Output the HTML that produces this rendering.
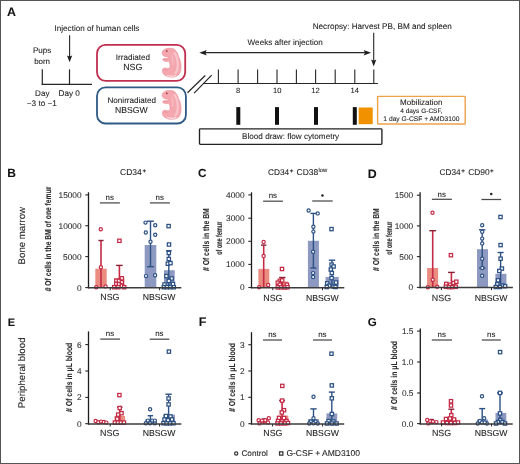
<!DOCTYPE html>
<html><head><meta charset="utf-8"><style>html,body{margin:0;padding:0;background:#fff;}#w{position:relative;width:520px;height:464px;overflow:hidden;background:#fff;}svg{display:block;will-change:transform;}.bd{position:absolute;left:0;top:0;width:520px;height:464px;box-sizing:border-box;border:1px solid #555;}text{font-family:"Liberation Sans",sans-serif;text-rendering:geometricPrecision;stroke:#222;stroke-width:0.08px;}</style></head><body><div id="w">
<svg width="520" height="464" viewBox="0 0 520 464" font-family="Liberation Sans, sans-serif">
<rect x="0" y="0" width="520" height="464" fill="#fff" stroke="none" stroke-width="1" rx="0"/>
<text x="6.94" y="15.60" font-size="12.388" font-weight="bold" fill="#111">A</text>
<text x="54.52" y="30.50" font-size="8.136" font-weight="normal" fill="#222222">Injection of human cells</text>
<line x1="69.6" y1="35.2" x2="69.6" y2="57.5" stroke="#262626" stroke-width="1.1"/>
<path d="M67.0 55.4 L69.6 56.6 L72.2 55.4 L69.6 62.2 Z" fill="#1e1e1e"/>
<text x="32.90" y="53.30" font-size="8.083" font-weight="normal" fill="#222222">Pups</text>
<text x="34.13" y="63.60" font-size="7.968" font-weight="normal" fill="#222222">born</text>
<line x1="42.3" y1="69.3" x2="42.3" y2="84.9" stroke="#262626" stroke-width="1.2"/>
<line x1="69.5" y1="69.3" x2="69.5" y2="84.3" stroke="#262626" stroke-width="1.2"/>
<line x1="41.7" y1="84.3" x2="92" y2="84.3" stroke="#262626" stroke-width="1.2"/>
<text x="35.10" y="95.60" font-size="8.100" font-weight="normal" fill="#222222">Day</text>
<text x="58.49" y="95.60" font-size="8.216" font-weight="normal" fill="#222222">Day 0</text>
<text x="26.84" y="106.20" font-size="8.196" font-weight="normal" fill="#222222">−3 to −1</text>
<rect x="97" y="44.8" width="88.2" height="36" fill="#fff" stroke="#bf2f50" stroke-width="1.8" rx="8.5"/>
<rect x="97" y="87.4" width="88.9" height="36.1" fill="#fff" stroke="#2e5a86" stroke-width="1.8" rx="8.5"/>
<text x="115.82" y="59.80" font-size="8.084" font-weight="normal" fill="#222222">Irradiated</text>
<text x="123.14" y="70.00" font-size="8.883" font-weight="normal" fill="#222222">NSG</text>
<text x="107.50" y="102.70" font-size="8.106" font-weight="normal" fill="#222222">Nonirradiated</text>
<text x="115.06" y="112.70" font-size="8.660" font-weight="normal" fill="#222222">NBSGW</text>
<g transform="translate(160 45.8)">
<path d="M2.1 6.8 C2.4 5.2 3.2 4.2 4.3 3.9 C5.5 2.9 7 2.5 8.5 2.5 C10 2.4 11.5 2.5 12.8 2.8 C14.2 3.3 15.2 4.1 15.7 5 C17.2 6.6 18 8.6 18.5 10.7 C19.8 12.8 20.4 14.9 20.7 17.1 C21.1 19 21.1 21 21 22.8 C20.8 24.6 20.4 26.3 19.6 27.8 C18.8 29.2 17.7 30.1 16.4 30.6 C14.6 31.3 12.6 31.4 10.7 31.3 C8.9 31.2 7.2 30.8 5.7 29.9 C4.6 29.4 3.7 28.7 3.2 27.8 C2.6 26.7 2.3 25.4 2.5 24.2 C2.7 23.4 3.1 22.7 3.6 22.4 C4.3 22.1 5 22.2 5.7 22.4 C7 22.6 8.2 22.7 9.3 22.8 C9.8 21.9 10.1 20.9 10 19.9 C10 18.9 9.9 18 9.6 17.1 C9.3 16.4 8.9 15.8 8.5 15.3 C8 15.5 7.6 15.7 7.1 15.7 C6.2 15.7 5.2 15.6 4.3 15.3 C3.6 15.1 3 14.7 2.8 14.2 C2.7 13.5 3.1 13 3.6 12.8 C4.5 12.6 5.5 12.6 6.4 12.7 C7 12.7 7.5 12.7 7.8 12.5 C8.1 12.1 8.1 11.6 7.8 11.2 C6.6 11 5.4 10.8 4.3 10.5 C3.5 10.2 3.1 9.8 2.8 9.3 C2.4 8.6 2.1 7.7 2.1 6.8 Z" fill="#f4a7ae" stroke="#e98e99" stroke-width="0.6"/>
<path d="M14 6.5 C16.5 9.5 17.8 14 17.8 19 C17.8 23 16.8 26 15 28" fill="none" stroke="#f8c6ca" stroke-width="2.2"/>
<path d="M11.5 9 C12.8 12 13.2 15.5 12.9 19" fill="none" stroke="#f7c0c5" stroke-width="1.1"/>
<path d="M6.8 29.6 C10 30.6 13.5 30.6 16.5 29.6" fill="none" stroke="#fde3e5" stroke-width="1.1"/>
<path d="M3.8 24.0 C5 23.6 6.5 23.9 7.6 24.6" fill="none" stroke="#e3808e" stroke-width="0.45"/>
<path d="M3.8 13.9 C5 13.7 6.3 13.8 7.4 13.6" fill="none" stroke="#e3808e" stroke-width="0.45"/>
<circle cx="6.8" cy="5.3" r="0.85" fill="#8a2f40"/>
</g>
<g transform="translate(160 88)">
<path d="M2.1 6.8 C2.4 5.2 3.2 4.2 4.3 3.9 C5.5 2.9 7 2.5 8.5 2.5 C10 2.4 11.5 2.5 12.8 2.8 C14.2 3.3 15.2 4.1 15.7 5 C17.2 6.6 18 8.6 18.5 10.7 C19.8 12.8 20.4 14.9 20.7 17.1 C21.1 19 21.1 21 21 22.8 C20.8 24.6 20.4 26.3 19.6 27.8 C18.8 29.2 17.7 30.1 16.4 30.6 C14.6 31.3 12.6 31.4 10.7 31.3 C8.9 31.2 7.2 30.8 5.7 29.9 C4.6 29.4 3.7 28.7 3.2 27.8 C2.6 26.7 2.3 25.4 2.5 24.2 C2.7 23.4 3.1 22.7 3.6 22.4 C4.3 22.1 5 22.2 5.7 22.4 C7 22.6 8.2 22.7 9.3 22.8 C9.8 21.9 10.1 20.9 10 19.9 C10 18.9 9.9 18 9.6 17.1 C9.3 16.4 8.9 15.8 8.5 15.3 C8 15.5 7.6 15.7 7.1 15.7 C6.2 15.7 5.2 15.6 4.3 15.3 C3.6 15.1 3 14.7 2.8 14.2 C2.7 13.5 3.1 13 3.6 12.8 C4.5 12.6 5.5 12.6 6.4 12.7 C7 12.7 7.5 12.7 7.8 12.5 C8.1 12.1 8.1 11.6 7.8 11.2 C6.6 11 5.4 10.8 4.3 10.5 C3.5 10.2 3.1 9.8 2.8 9.3 C2.4 8.6 2.1 7.7 2.1 6.8 Z" fill="#f4a7ae" stroke="#e98e99" stroke-width="0.6"/>
<path d="M14 6.5 C16.5 9.5 17.8 14 17.8 19 C17.8 23 16.8 26 15 28" fill="none" stroke="#f8c6ca" stroke-width="2.2"/>
<path d="M11.5 9 C12.8 12 13.2 15.5 12.9 19" fill="none" stroke="#f7c0c5" stroke-width="1.1"/>
<path d="M6.8 29.6 C10 30.6 13.5 30.6 16.5 29.6" fill="none" stroke="#fde3e5" stroke-width="1.1"/>
<path d="M3.8 24.0 C5 23.6 6.5 23.9 7.6 24.6" fill="none" stroke="#e3808e" stroke-width="0.45"/>
<path d="M3.8 13.9 C5 13.7 6.3 13.8 7.4 13.6" fill="none" stroke="#e3808e" stroke-width="0.45"/>
<circle cx="6.8" cy="5.3" r="0.85" fill="#8a2f40"/>
</g>
<line x1="187.5" y1="92.8" x2="205.2" y2="75.5" stroke="#262626" stroke-width="1.2"/>
<line x1="194.1" y1="93.1" x2="211.7" y2="75.2" stroke="#262626" stroke-width="1.2"/>
<line x1="203.5" y1="83.5" x2="377.9" y2="83.5" stroke="#262626" stroke-width="1.2"/>
<line x1="218.4" y1="69.4" x2="218.4" y2="83.5" stroke="#262626" stroke-width="1.1"/>
<line x1="238.1" y1="69.4" x2="238.1" y2="83.5" stroke="#262626" stroke-width="1.1"/>
<line x1="257.6" y1="69.4" x2="257.6" y2="83.5" stroke="#262626" stroke-width="1.1"/>
<line x1="277.0" y1="69.4" x2="277.0" y2="83.5" stroke="#262626" stroke-width="1.1"/>
<line x1="296.4" y1="69.4" x2="296.4" y2="83.5" stroke="#262626" stroke-width="1.1"/>
<line x1="315.6" y1="69.4" x2="315.6" y2="83.5" stroke="#262626" stroke-width="1.1"/>
<line x1="335.2" y1="69.4" x2="335.2" y2="83.5" stroke="#262626" stroke-width="1.1"/>
<line x1="354.8" y1="69.4" x2="354.8" y2="83.5" stroke="#262626" stroke-width="1.1"/>
<line x1="373.8" y1="69.4" x2="373.8" y2="83.5" stroke="#262626" stroke-width="1.1"/>
<text x="235.97" y="92.80" font-size="7.600" font-weight="normal" fill="#222222">8</text>
<text x="272.93" y="92.80" font-size="7.600" font-weight="normal" fill="#222222">10</text>
<text x="311.19" y="92.80" font-size="7.600" font-weight="normal" fill="#222222">12</text>
<text x="350.41" y="92.80" font-size="7.600" font-weight="normal" fill="#222222">14</text>
<line x1="203" y1="52.7" x2="367" y2="52.7" stroke="#262626" stroke-width="1.2"/>
<path d="M199.3 52.7 L206.8 49.9 L205.3 52.7 L206.8 55.5 Z" fill="#1e1e1e"/>
<path d="M371.1 52.7 L363.6 49.9 L365.1 52.7 L363.6 55.5 Z" fill="#1e1e1e"/>
<text x="247.61" y="44.70" font-size="8.124" font-weight="normal" fill="#222222">Weeks after injection</text>
<text x="312.70" y="29.30" font-size="8.176" font-weight="normal" fill="#222222">Necropsy: Harvest PB, BM and spleen</text>
<line x1="373.7" y1="32.8" x2="373.7" y2="62" stroke="#262626" stroke-width="1.1"/>
<path d="M371.1 59.6 L373.7 60.8 L376.3 59.6 L373.7 66.6 Z" fill="#1e1e1e"/>
<rect x="236.3" y="107.1" width="4" height="17.7" fill="#111" stroke="none" stroke-width="1" rx="0"/>
<rect x="275.0" y="107.1" width="4" height="17.7" fill="#111" stroke="none" stroke-width="1" rx="0"/>
<rect x="314.0" y="107.1" width="4" height="17.7" fill="#111" stroke="none" stroke-width="1" rx="0"/>
<rect x="352.8" y="107.1" width="4" height="17.7" fill="#111" stroke="none" stroke-width="1" rx="0"/>
<rect x="358.7" y="107.5" width="14" height="16.7" fill="#f29100" stroke="none" stroke-width="1" rx="0"/>
<rect x="377.6" y="96.4" width="87.6" height="27.6" fill="#fff" stroke="#eda24a" stroke-width="1.4" rx="0.6"/>
<text x="400.01" y="104.60" font-size="8.043" font-weight="normal" fill="#222222">Mobilization</text>
<text x="400.22" y="112.70" font-size="6.505" font-weight="normal" fill="#222222">4 days G-CSF,</text>
<text x="383.35" y="120.90" font-size="6.708" font-weight="normal" fill="#222222">1 day G-CSF + AMD3100</text>
<rect x="199.5" y="128.8" width="182.4" height="15.5" fill="#fff" stroke="#222" stroke-width="1.35" rx="0.8"/>
<text x="242.10" y="138.80" font-size="8.138" font-weight="normal" fill="#222222">Blood draw: flow cytometry</text>
<text x="7.37" y="177.30" font-size="11.967" font-weight="bold" fill="#111">B</text>
<text x="197.98" y="177.40" font-size="11.756" font-weight="bold" fill="#111">C</text>
<text x="367.65" y="177.50" font-size="12.358" font-weight="bold" fill="#111">D</text>
<text x="7.64" y="325.50" font-size="10.973" font-weight="bold" fill="#111">E</text>
<text x="198.63" y="325.50" font-size="12.549" font-weight="bold" fill="#111">F</text>
<text x="367.69" y="325.60" font-size="11.556" font-weight="bold" fill="#111">G</text>
<text transform="translate(25.25 235.7) rotate(-90)" x="0" y="0" font-size="9.64" text-anchor="middle" fill="#222222" textLength="57.44" lengthAdjust="spacingAndGlyphs">Bone marrow</text>
<text transform="translate(24.9 372.85) rotate(-90)" x="0" y="0" font-size="9.7" text-anchor="middle" fill="#222222" textLength="70.84" lengthAdjust="spacingAndGlyphs">Peripheral blood</text>
<text x="120.02" y="175.00" font-size="8.525" font-weight="normal" fill="#222222">CD34</text>
<text x="142.59" y="172.90" font-size="6.200" font-weight="bold" fill="#222222">+</text>
<text x="267.94" y="175.10" font-size="8.283" font-weight="normal" fill="#222222">CD34</text>
<text x="289.69" y="172.90" font-size="6.200" font-weight="bold" fill="#222222">+</text>
<text x="296.53" y="175.10" font-size="8.479" font-weight="normal" fill="#222222">CD38</text>
<text x="318.47" y="172.30" font-size="5.903" font-weight="normal" fill="#222222">low</text>
<text x="439.43" y="175.10" font-size="8.323" font-weight="normal" fill="#222222">CD34</text>
<text x="461.29" y="172.90" font-size="6.200" font-weight="bold" fill="#222222">+</text>
<text x="468.13" y="175.10" font-size="8.421" font-weight="normal" fill="#222222">CD90</text>
<text x="490.09" y="172.90" font-size="6.200" font-weight="bold" fill="#222222">+</text>
<rect x="95.3" y="268.7" width="11.400000000000006" height="19.05000000000001" fill="#ea8c80"/>
<line x1="101.0" y1="240.5" x2="101.0" y2="287.75" stroke="#c42a45" stroke-width="1.6"/>
<line x1="98.4" y1="240.5" x2="103.6" y2="240.5" stroke="#8a2238" stroke-width="1.4"/>
<circle cx="100.8" cy="229.2" r="1.6" fill="#fff" stroke="#c42a45" stroke-width="1.2"/>
<circle cx="100.9" cy="267.2" r="1.6" fill="#fff" stroke="#c42a45" stroke-width="1.2"/>
<circle cx="96.2" cy="287.3" r="1.6" fill="#fff" stroke="#c42a45" stroke-width="1.2"/>
<circle cx="105.6" cy="286.4" r="1.6" fill="#fff" stroke="#c42a45" stroke-width="1.2"/>
<rect x="114.4" y="278.3" width="10.0" height="9.449999999999989" fill="#ea8c80"/>
<line x1="119.4" y1="265.4" x2="119.4" y2="287.75" stroke="#c42a45" stroke-width="1.6"/>
<line x1="116.10000000000001" y1="265.4" x2="122.7" y2="265.4" stroke="#8a2238" stroke-width="1.4"/>
<rect x="117.75" y="239.15" width="3.3" height="3.3" fill="#fff" stroke="#c42a45" stroke-width="1.25"/>
<rect x="120.15" y="276.65" width="3.3" height="3.3" fill="#fff" stroke="#c42a45" stroke-width="1.25"/>
<rect x="114.65" y="279.05" width="3.3" height="3.3" fill="#fff" stroke="#c42a45" stroke-width="1.25"/>
<rect x="117.35" y="279.25" width="3.3" height="3.3" fill="#fff" stroke="#c42a45" stroke-width="1.25"/>
<rect x="120.15" y="280.65" width="3.3" height="3.3" fill="#fff" stroke="#c42a45" stroke-width="1.25"/>
<rect x="114.65" y="282.15" width="3.3" height="3.3" fill="#fff" stroke="#c42a45" stroke-width="1.25"/>
<rect x="117.35" y="282.65" width="3.3" height="3.3" fill="#fff" stroke="#c42a45" stroke-width="1.25"/>
<rect x="120.15" y="284.25" width="3.3" height="3.3" fill="#fff" stroke="#c42a45" stroke-width="1.25"/>
<rect x="112.55" y="285.55" width="3.3" height="3.3" fill="#fff" stroke="#c42a45" stroke-width="1.25"/>
<rect x="116.65" y="285.55" width="3.3" height="3.3" fill="#fff" stroke="#c42a45" stroke-width="1.25"/>
<rect x="122.55" y="285.55" width="3.3" height="3.3" fill="#fff" stroke="#c42a45" stroke-width="1.25"/>
<rect x="144.7" y="245.0" width="11.600000000000023" height="42.75" fill="#8d99c0"/>
<line x1="150.5" y1="221.2" x2="150.5" y2="266.7" stroke="#2c5184" stroke-width="1.4"/>
<line x1="147.1" y1="221.2" x2="153.9" y2="221.2" stroke="#2c5184" stroke-width="1.4"/>
<line x1="147.1" y1="266.7" x2="153.9" y2="266.7" stroke="#2c5184" stroke-width="1.4"/>
<circle cx="145.5" cy="222.6" r="1.6" fill="#fff" stroke="#2c5184" stroke-width="1.2"/>
<circle cx="155.2" cy="225.3" r="1.6" fill="#fff" stroke="#2c5184" stroke-width="1.2"/>
<circle cx="145.8" cy="232.5" r="1.6" fill="#fff" stroke="#2c5184" stroke-width="1.2"/>
<circle cx="155.2" cy="234.7" r="1.6" fill="#fff" stroke="#2c5184" stroke-width="1.2"/>
<circle cx="150.5" cy="241.7" r="1.6" fill="#fff" stroke="#2c5184" stroke-width="1.2"/>
<circle cx="146.0" cy="276.1" r="1.6" fill="#fff" stroke="#2c5184" stroke-width="1.2"/>
<circle cx="155.1" cy="275.3" r="1.6" fill="#fff" stroke="#2c5184" stroke-width="1.2"/>
<rect x="164.0" y="270.2" width="10.699999999999989" height="17.55000000000001" fill="#8d99c0"/>
<line x1="168.8" y1="250.7" x2="168.8" y2="287.75" stroke="#2c5184" stroke-width="1.4"/>
<line x1="166.0" y1="250.7" x2="171.60000000000002" y2="250.7" stroke="#2c5184" stroke-width="1.4"/>
<rect x="166.95" y="224.45" width="3.3" height="3.3" fill="#fff" stroke="#2c5184" stroke-width="1.25"/>
<rect x="167.35" y="242.85" width="3.3" height="3.3" fill="#fff" stroke="#2c5184" stroke-width="1.25"/>
<rect x="167.15" y="251.35" width="3.3" height="3.3" fill="#fff" stroke="#2c5184" stroke-width="1.25"/>
<rect x="167.15" y="257.35" width="3.3" height="3.3" fill="#fff" stroke="#2c5184" stroke-width="1.25"/>
<rect x="166.15" y="262.05" width="3.3" height="3.3" fill="#fff" stroke="#2c5184" stroke-width="1.25"/>
<rect x="168.85" y="261.45" width="3.3" height="3.3" fill="#fff" stroke="#2c5184" stroke-width="1.25"/>
<rect x="164.75" y="274.45" width="3.3" height="3.3" fill="#fff" stroke="#2c5184" stroke-width="1.25"/>
<rect x="170.05" y="276.85" width="3.3" height="3.3" fill="#fff" stroke="#2c5184" stroke-width="1.25"/>
<rect x="167.15" y="279.25" width="3.3" height="3.3" fill="#fff" stroke="#2c5184" stroke-width="1.25"/>
<rect x="162.85" y="282.85" width="3.3" height="3.3" fill="#fff" stroke="#2c5184" stroke-width="1.25"/>
<rect x="171.35" y="282.35" width="3.3" height="3.3" fill="#fff" stroke="#2c5184" stroke-width="1.25"/>
<rect x="162.15" y="285.55" width="3.3" height="3.3" fill="#fff" stroke="#2c5184" stroke-width="1.25"/>
<rect x="165.35" y="285.55" width="3.3" height="3.3" fill="#fff" stroke="#2c5184" stroke-width="1.25"/>
<rect x="168.65" y="285.55" width="3.3" height="3.3" fill="#fff" stroke="#2c5184" stroke-width="1.25"/>
<rect x="172.15" y="285.55" width="3.3" height="3.3" fill="#fff" stroke="#2c5184" stroke-width="1.25"/>
<line x1="88.5" y1="192.3" x2="88.5" y2="288.35" stroke="#1c1c1c" stroke-width="1.3"/>
<line x1="87.9" y1="287.75" x2="181.3" y2="287.75" stroke="#3c3c3c" stroke-width="1.5"/>
<line x1="85.3" y1="194.9" x2="88.5" y2="194.9" stroke="#262626" stroke-width="1.1"/>
<text x="58.52" y="197.80" font-size="8.300" font-weight="normal" fill="#2e2e2e">15000</text>
<line x1="85.3" y1="225.75" x2="88.5" y2="225.75" stroke="#262626" stroke-width="1.1"/>
<text x="58.52" y="228.65" font-size="8.300" font-weight="normal" fill="#2e2e2e">10000</text>
<line x1="85.3" y1="256.6" x2="88.5" y2="256.6" stroke="#262626" stroke-width="1.1"/>
<text x="63.12" y="259.50" font-size="8.300" font-weight="normal" fill="#2e2e2e">5000</text>
<line x1="85.3" y1="287.6" x2="88.5" y2="287.6" stroke="#262626" stroke-width="1.1"/>
<text x="76.98" y="290.50" font-size="8.300" font-weight="normal" fill="#2e2e2e">0</text>
<line x1="110.2" y1="287.75" x2="110.2" y2="290.25" stroke="#262626" stroke-width="1"/>
<line x1="159.6" y1="287.75" x2="159.6" y2="290.25" stroke="#262626" stroke-width="1"/>
<text x="100.22" y="300.30" font-size="8.900" font-weight="normal" fill="#222222">NSG</text>
<text x="142.68" y="300.30" font-size="8.700" font-weight="normal" fill="#222222">NBSGW</text>
<line x1="99.9" y1="202.9" x2="119.9" y2="202.9" stroke="#4a4a4a" stroke-width="1.25"/>
<text x="105.61" y="200.10" font-size="7.900" font-weight="normal" fill="#222222">ns</text>
<line x1="149.9" y1="202.9" x2="169.9" y2="202.9" stroke="#4a4a4a" stroke-width="1.25"/>
<text x="155.61" y="200.10" font-size="7.900" font-weight="normal" fill="#222222">ns</text>
<text transform="translate(50.95 239.0) rotate(-90)" x="0" y="0" font-size="8.6" text-anchor="middle" fill="#2a2a2a" font-weight="bold" textLength="104.49" lengthAdjust="spacingAndGlyphs"># Of cells in the BM of one femur</text>
<rect x="258.4" y="268.9" width="10.900000000000034" height="18.80000000000001" fill="#ea8c80"/>
<line x1="263.7" y1="245.1" x2="263.7" y2="287.7" stroke="#c42a45" stroke-width="1.6"/>
<line x1="261.0" y1="245.1" x2="266.4" y2="245.1" stroke="#8a2238" stroke-width="1.4"/>
<circle cx="263.6" cy="241.9" r="1.6" fill="#fff" stroke="#c42a45" stroke-width="1.2"/>
<circle cx="263.6" cy="255.9" r="1.6" fill="#fff" stroke="#c42a45" stroke-width="1.2"/>
<circle cx="259.1" cy="287.2" r="1.6" fill="#fff" stroke="#c42a45" stroke-width="1.2"/>
<circle cx="268.2" cy="285.0" r="1.6" fill="#fff" stroke="#c42a45" stroke-width="1.2"/>
<rect x="277.0" y="281.5" width="11.0" height="6.199999999999989" fill="#ea8c80"/>
<line x1="282.3" y1="277.5" x2="282.3" y2="287.7" stroke="#c42a45" stroke-width="1.6"/>
<line x1="279.1" y1="277.5" x2="285.5" y2="277.5" stroke="#8a2238" stroke-width="1.4"/>
<rect x="280.35" y="267.35" width="3.3" height="3.3" fill="#fff" stroke="#c42a45" stroke-width="1.25"/>
<rect x="278.15" y="279.15" width="3.3" height="3.3" fill="#fff" stroke="#c42a45" stroke-width="1.25"/>
<rect x="280.55" y="278.75" width="3.3" height="3.3" fill="#fff" stroke="#c42a45" stroke-width="1.25"/>
<rect x="276.15" y="281.05" width="3.3" height="3.3" fill="#fff" stroke="#c42a45" stroke-width="1.25"/>
<rect x="278.15" y="283.05" width="3.3" height="3.3" fill="#fff" stroke="#c42a45" stroke-width="1.25"/>
<rect x="285.25" y="283.05" width="3.3" height="3.3" fill="#fff" stroke="#c42a45" stroke-width="1.25"/>
<rect x="276.15" y="285.75" width="3.3" height="3.3" fill="#fff" stroke="#c42a45" stroke-width="1.25"/>
<rect x="279.45" y="285.75" width="3.3" height="3.3" fill="#fff" stroke="#c42a45" stroke-width="1.25"/>
<rect x="283.25" y="285.75" width="3.3" height="3.3" fill="#fff" stroke="#c42a45" stroke-width="1.25"/>
<rect x="285.85" y="285.55" width="3.3" height="3.3" fill="#fff" stroke="#c42a45" stroke-width="1.25"/>
<rect x="307.9" y="240.8" width="11.0" height="46.89999999999998" fill="#8d99c0"/>
<line x1="313.4" y1="213.4" x2="313.4" y2="268.0" stroke="#2c5184" stroke-width="1.4"/>
<line x1="310.4" y1="213.4" x2="316.4" y2="213.4" stroke="#2c5184" stroke-width="1.4"/>
<line x1="310.4" y1="268.0" x2="316.4" y2="268.0" stroke="#2c5184" stroke-width="1.4"/>
<circle cx="308.6" cy="210.5" r="1.6" fill="#fff" stroke="#2c5184" stroke-width="1.2"/>
<circle cx="317.7" cy="213.4" r="1.6" fill="#fff" stroke="#2c5184" stroke-width="1.2"/>
<circle cx="313.4" cy="226.7" r="1.6" fill="#fff" stroke="#2c5184" stroke-width="1.2"/>
<circle cx="313.4" cy="231.6" r="1.6" fill="#fff" stroke="#2c5184" stroke-width="1.2"/>
<circle cx="313.1" cy="251.8" r="1.6" fill="#fff" stroke="#2c5184" stroke-width="1.2"/>
<circle cx="313.1" cy="273.1" r="1.6" fill="#fff" stroke="#2c5184" stroke-width="1.2"/>
<circle cx="313.1" cy="277.0" r="1.6" fill="#fff" stroke="#2c5184" stroke-width="1.2"/>
<rect x="325.6" y="276.9" width="13.099999999999966" height="10.800000000000011" fill="#8d99c0"/>
<line x1="332.0" y1="260.2" x2="332.0" y2="287.7" stroke="#2c5184" stroke-width="1.4"/>
<line x1="328.8" y1="260.2" x2="335.2" y2="260.2" stroke="#2c5184" stroke-width="1.4"/>
<rect x="329.85" y="227.45" width="3.3" height="3.3" fill="#fff" stroke="#2c5184" stroke-width="1.25"/>
<rect x="329.95" y="262.95" width="3.3" height="3.3" fill="#fff" stroke="#2c5184" stroke-width="1.25"/>
<rect x="331.95" y="264.85" width="3.3" height="3.3" fill="#fff" stroke="#2c5184" stroke-width="1.25"/>
<rect x="329.15" y="267.85" width="3.3" height="3.3" fill="#fff" stroke="#2c5184" stroke-width="1.25"/>
<rect x="330.15" y="271.35" width="3.3" height="3.3" fill="#fff" stroke="#2c5184" stroke-width="1.25"/>
<rect x="329.95" y="276.45" width="3.3" height="3.3" fill="#fff" stroke="#2c5184" stroke-width="1.25"/>
<rect x="325.55" y="281.65" width="3.3" height="3.3" fill="#fff" stroke="#2c5184" stroke-width="1.25"/>
<rect x="334.35" y="280.85" width="3.3" height="3.3" fill="#fff" stroke="#2c5184" stroke-width="1.25"/>
<rect x="327.55" y="284.05" width="3.3" height="3.3" fill="#fff" stroke="#2c5184" stroke-width="1.25"/>
<rect x="331.95" y="284.85" width="3.3" height="3.3" fill="#fff" stroke="#2c5184" stroke-width="1.25"/>
<rect x="325.15" y="285.35" width="3.3" height="3.3" fill="#fff" stroke="#2c5184" stroke-width="1.25"/>
<rect x="333.85" y="285.35" width="3.3" height="3.3" fill="#fff" stroke="#2c5184" stroke-width="1.25"/>
<line x1="251.5" y1="192.3" x2="251.5" y2="288.3" stroke="#1c1c1c" stroke-width="1.3"/>
<line x1="250.9" y1="287.7" x2="344.3" y2="287.7" stroke="#3c3c3c" stroke-width="1.5"/>
<line x1="248.3" y1="194.9" x2="251.5" y2="194.9" stroke="#262626" stroke-width="1.1"/>
<text x="226.12" y="197.80" font-size="8.300" font-weight="normal" fill="#2e2e2e">4000</text>
<line x1="248.3" y1="218.2" x2="251.5" y2="218.2" stroke="#262626" stroke-width="1.1"/>
<text x="226.12" y="221.10" font-size="8.300" font-weight="normal" fill="#2e2e2e">3000</text>
<line x1="248.3" y1="241.3" x2="251.5" y2="241.3" stroke="#262626" stroke-width="1.1"/>
<text x="226.12" y="244.20" font-size="8.300" font-weight="normal" fill="#2e2e2e">2000</text>
<line x1="248.3" y1="264.4" x2="251.5" y2="264.4" stroke="#262626" stroke-width="1.1"/>
<text x="226.12" y="267.30" font-size="8.300" font-weight="normal" fill="#2e2e2e">1000</text>
<line x1="248.3" y1="287.5" x2="251.5" y2="287.5" stroke="#262626" stroke-width="1.1"/>
<text x="239.98" y="290.40" font-size="8.300" font-weight="normal" fill="#2e2e2e">0</text>
<line x1="272.8" y1="287.7" x2="272.8" y2="290.2" stroke="#262626" stroke-width="1"/>
<line x1="322.5" y1="287.7" x2="322.5" y2="290.2" stroke="#262626" stroke-width="1"/>
<text x="263.27" y="300.90" font-size="8.900" font-weight="normal" fill="#222222">NSG</text>
<text x="305.88" y="300.90" font-size="8.700" font-weight="normal" fill="#222222">NBSGW</text>
<line x1="263.1" y1="201.2" x2="282.9" y2="201.2" stroke="#4a4a4a" stroke-width="1.25"/>
<text x="268.71" y="198.40" font-size="7.900" font-weight="normal" fill="#222222">ns</text>
<line x1="312.2" y1="201.0" x2="332.7" y2="201.0" stroke="#4a4a4a" stroke-width="1.25"/>
<circle cx="322.45" cy="195.50" r="1.25" fill="#222"/>
<text transform="translate(209.4 239.65) rotate(-90)" x="0" y="0" font-size="8.6" text-anchor="middle" fill="#2a2a2a" font-weight="bold" textLength="62.77" lengthAdjust="spacingAndGlyphs"># Of cells in the BM</text>
<text transform="translate(222.2 238.25) rotate(-90)" x="0" y="0" font-size="8.6" text-anchor="middle" fill="#2a2a2a" font-weight="bold" textLength="33.10" lengthAdjust="spacingAndGlyphs">of one femur</text>
<rect x="427.1" y="268.0" width="11.0" height="19.600000000000023" fill="#ea8c80"/>
<line x1="432.7" y1="230.7" x2="432.7" y2="287.6" stroke="#c42a45" stroke-width="1.6"/>
<line x1="429.3" y1="230.7" x2="436.09999999999997" y2="230.7" stroke="#8a2238" stroke-width="1.4"/>
<circle cx="432.5" cy="212.8" r="1.6" fill="#fff" stroke="#c42a45" stroke-width="1.2"/>
<circle cx="432.7" cy="279.7" r="1.6" fill="#fff" stroke="#c42a45" stroke-width="1.2"/>
<circle cx="427.8" cy="287.2" r="1.6" fill="#fff" stroke="#c42a45" stroke-width="1.2"/>
<circle cx="437.2" cy="286.8" r="1.6" fill="#fff" stroke="#c42a45" stroke-width="1.2"/>
<rect x="445.5" y="283.0" width="11.0" height="4.600000000000023" fill="#ea8c80"/>
<line x1="451.4" y1="272.4" x2="451.4" y2="287.6" stroke="#c42a45" stroke-width="1.6"/>
<line x1="448.0" y1="272.4" x2="454.79999999999995" y2="272.4" stroke="#8a2238" stroke-width="1.4"/>
<rect x="449.25" y="253.55" width="3.3" height="3.3" fill="#fff" stroke="#c42a45" stroke-width="1.25"/>
<rect x="444.65" y="282.25" width="3.3" height="3.3" fill="#fff" stroke="#c42a45" stroke-width="1.25"/>
<rect x="448.35" y="283.15" width="3.3" height="3.3" fill="#fff" stroke="#c42a45" stroke-width="1.25"/>
<rect x="451.95" y="281.35" width="3.3" height="3.3" fill="#fff" stroke="#c42a45" stroke-width="1.25"/>
<rect x="454.65" y="280.05" width="3.3" height="3.3" fill="#fff" stroke="#c42a45" stroke-width="1.25"/>
<rect x="444.25" y="285.05" width="3.3" height="3.3" fill="#fff" stroke="#c42a45" stroke-width="1.25"/>
<rect x="447.35" y="285.45" width="3.3" height="3.3" fill="#fff" stroke="#c42a45" stroke-width="1.25"/>
<rect x="450.55" y="285.45" width="3.3" height="3.3" fill="#fff" stroke="#c42a45" stroke-width="1.25"/>
<rect x="454.15" y="285.05" width="3.3" height="3.3" fill="#fff" stroke="#c42a45" stroke-width="1.25"/>
<rect x="477.0" y="249.2" width="11.0" height="38.400000000000034" fill="#8d99c0"/>
<line x1="482.2" y1="229.8" x2="482.2" y2="268.0" stroke="#2c5184" stroke-width="1.4"/>
<line x1="479.0" y1="229.8" x2="485.4" y2="229.8" stroke="#2c5184" stroke-width="1.4"/>
<line x1="479.0" y1="268.0" x2="485.4" y2="268.0" stroke="#2c5184" stroke-width="1.4"/>
<circle cx="482.2" cy="225.3" r="1.6" fill="#fff" stroke="#2c5184" stroke-width="1.2"/>
<circle cx="482.2" cy="231.8" r="1.6" fill="#fff" stroke="#2c5184" stroke-width="1.2"/>
<circle cx="482.2" cy="238.6" r="1.6" fill="#fff" stroke="#2c5184" stroke-width="1.2"/>
<circle cx="482.2" cy="243.4" r="1.6" fill="#fff" stroke="#2c5184" stroke-width="1.2"/>
<circle cx="482.2" cy="258.7" r="1.6" fill="#fff" stroke="#2c5184" stroke-width="1.2"/>
<circle cx="482.2" cy="268.0" r="1.6" fill="#fff" stroke="#2c5184" stroke-width="1.2"/>
<circle cx="482.2" cy="275.8" r="1.6" fill="#fff" stroke="#2c5184" stroke-width="1.2"/>
<rect x="495.4" y="273.8" width="11.0" height="13.800000000000011" fill="#8d99c0"/>
<line x1="500.6" y1="252.5" x2="500.6" y2="287.6" stroke="#2c5184" stroke-width="1.4"/>
<line x1="497.6" y1="252.5" x2="503.6" y2="252.5" stroke="#2c5184" stroke-width="1.4"/>
<rect x="498.85" y="215.35" width="3.3" height="3.3" fill="#fff" stroke="#2c5184" stroke-width="1.25"/>
<rect x="498.95" y="243.45" width="3.3" height="3.3" fill="#fff" stroke="#2c5184" stroke-width="1.25"/>
<rect x="498.95" y="257.05" width="3.3" height="3.3" fill="#fff" stroke="#2c5184" stroke-width="1.25"/>
<rect x="500.25" y="266.95" width="3.3" height="3.3" fill="#fff" stroke="#2c5184" stroke-width="1.25"/>
<rect x="497.65" y="269.35" width="3.3" height="3.3" fill="#fff" stroke="#2c5184" stroke-width="1.25"/>
<rect x="496.35" y="278.65" width="3.3" height="3.3" fill="#fff" stroke="#2c5184" stroke-width="1.25"/>
<rect x="495.65" y="282.55" width="3.3" height="3.3" fill="#fff" stroke="#2c5184" stroke-width="1.25"/>
<rect x="500.85" y="283.85" width="3.3" height="3.3" fill="#fff" stroke="#2c5184" stroke-width="1.25"/>
<rect x="503.45" y="284.55" width="3.3" height="3.3" fill="#fff" stroke="#2c5184" stroke-width="1.25"/>
<rect x="498.35" y="285.35" width="3.3" height="3.3" fill="#fff" stroke="#2c5184" stroke-width="1.25"/>
<rect x="494.15" y="285.35" width="3.3" height="3.3" fill="#fff" stroke="#2c5184" stroke-width="1.25"/>
<line x1="420.1" y1="192.3" x2="420.1" y2="288.20000000000005" stroke="#1c1c1c" stroke-width="1.3"/>
<line x1="419.5" y1="287.6" x2="512.9" y2="287.6" stroke="#3c3c3c" stroke-width="1.5"/>
<line x1="416.90000000000003" y1="195.2" x2="420.1" y2="195.2" stroke="#262626" stroke-width="1.1"/>
<text x="394.72" y="198.10" font-size="8.300" font-weight="normal" fill="#2e2e2e">1500</text>
<line x1="416.90000000000003" y1="225.9" x2="420.1" y2="225.9" stroke="#262626" stroke-width="1.1"/>
<text x="394.72" y="228.80" font-size="8.300" font-weight="normal" fill="#2e2e2e">1000</text>
<line x1="416.90000000000003" y1="256.6" x2="420.1" y2="256.6" stroke="#262626" stroke-width="1.1"/>
<text x="399.37" y="259.50" font-size="8.300" font-weight="normal" fill="#2e2e2e">500</text>
<line x1="416.90000000000003" y1="287.4" x2="420.1" y2="287.4" stroke="#262626" stroke-width="1.1"/>
<text x="408.58" y="290.30" font-size="8.300" font-weight="normal" fill="#2e2e2e">0</text>
<line x1="441.4" y1="287.6" x2="441.4" y2="290.1" stroke="#262626" stroke-width="1"/>
<line x1="491.5" y1="287.6" x2="491.5" y2="290.1" stroke="#262626" stroke-width="1"/>
<text x="431.82" y="300.90" font-size="8.900" font-weight="normal" fill="#222222">NSG</text>
<text x="474.73" y="300.90" font-size="8.700" font-weight="normal" fill="#222222">NBSGW</text>
<line x1="431.9" y1="199.3" x2="451.9" y2="199.3" stroke="#4a4a4a" stroke-width="1.25"/>
<text x="437.61" y="196.50" font-size="7.900" font-weight="normal" fill="#222222">ns</text>
<line x1="481.4" y1="199.5" x2="501.1" y2="199.5" stroke="#4a4a4a" stroke-width="1.25"/>
<circle cx="491.25" cy="194.00" r="1.25" fill="#222"/>
<text transform="translate(379.3 239.65) rotate(-90)" x="0" y="0" font-size="8.6" text-anchor="middle" fill="#2a2a2a" font-weight="bold" textLength="62.77" lengthAdjust="spacingAndGlyphs"># Of cells in the BM</text>
<text transform="translate(392.0 238.25) rotate(-90)" x="0" y="0" font-size="8.6" text-anchor="middle" fill="#2a2a2a" font-weight="bold" textLength="33.10" lengthAdjust="spacingAndGlyphs">of one femur</text>
<rect x="95.5" y="422.0" width="11.0" height="2.0" fill="#ea8c80"/>
<line x1="101.0" y1="421.0" x2="101.0" y2="424.0" stroke="#c42a45" stroke-width="1.6"/>
<line x1="99.0" y1="421.0" x2="103.0" y2="421.0" stroke="#8a2238" stroke-width="1.4"/>
<circle cx="95.6" cy="421.0" r="1.6" fill="#fff" stroke="#c42a45" stroke-width="1.2"/>
<circle cx="98.3" cy="422.3" r="1.6" fill="#fff" stroke="#c42a45" stroke-width="1.2"/>
<circle cx="101.0" cy="421.6" r="1.6" fill="#fff" stroke="#c42a45" stroke-width="1.2"/>
<circle cx="103.8" cy="422.0" r="1.6" fill="#fff" stroke="#c42a45" stroke-width="1.2"/>
<circle cx="106.3" cy="422.6" r="1.6" fill="#fff" stroke="#c42a45" stroke-width="1.2"/>
<rect x="114.5" y="416.0" width="10.5" height="8.0" fill="#ea8c80"/>
<line x1="119.8" y1="407.3" x2="119.8" y2="424.0" stroke="#c42a45" stroke-width="1.6"/>
<line x1="117.1" y1="407.3" x2="122.5" y2="407.3" stroke="#8a2238" stroke-width="1.4"/>
<rect x="117.75" y="393.45" width="3.3" height="3.3" fill="#fff" stroke="#c42a45" stroke-width="1.25"/>
<rect x="118.05" y="406.35" width="3.3" height="3.3" fill="#fff" stroke="#c42a45" stroke-width="1.25"/>
<rect x="116.55" y="412.95" width="3.3" height="3.3" fill="#fff" stroke="#c42a45" stroke-width="1.25"/>
<rect x="119.85" y="411.55" width="3.3" height="3.3" fill="#fff" stroke="#c42a45" stroke-width="1.25"/>
<rect x="115.55" y="417.15" width="3.3" height="3.3" fill="#fff" stroke="#c42a45" stroke-width="1.25"/>
<rect x="113.25" y="420.95" width="3.3" height="3.3" fill="#fff" stroke="#c42a45" stroke-width="1.25"/>
<rect x="116.25" y="420.95" width="3.3" height="3.3" fill="#fff" stroke="#c42a45" stroke-width="1.25"/>
<rect x="119.15" y="420.95" width="3.3" height="3.3" fill="#fff" stroke="#c42a45" stroke-width="1.25"/>
<rect x="122.25" y="420.95" width="3.3" height="3.3" fill="#fff" stroke="#c42a45" stroke-width="1.25"/>
<rect x="145.0" y="419.5" width="11.0" height="4.5" fill="#8d99c0"/>
<line x1="150.4" y1="415.7" x2="150.4" y2="424.0" stroke="#2c5184" stroke-width="1.4"/>
<line x1="147.70000000000002" y1="415.7" x2="153.1" y2="415.7" stroke="#2c5184" stroke-width="1.4"/>
<circle cx="150.1" cy="409.2" r="1.6" fill="#fff" stroke="#2c5184" stroke-width="1.2"/>
<circle cx="145.8" cy="423.3" r="1.6" fill="#fff" stroke="#2c5184" stroke-width="1.2"/>
<circle cx="147.9" cy="420.6" r="1.6" fill="#fff" stroke="#2c5184" stroke-width="1.2"/>
<circle cx="150.1" cy="423.3" r="1.6" fill="#fff" stroke="#2c5184" stroke-width="1.2"/>
<circle cx="152.2" cy="420.6" r="1.6" fill="#fff" stroke="#2c5184" stroke-width="1.2"/>
<circle cx="154.9" cy="423.3" r="1.6" fill="#fff" stroke="#2c5184" stroke-width="1.2"/>
<circle cx="154.9" cy="420.6" r="1.6" fill="#fff" stroke="#2c5184" stroke-width="1.2"/>
<rect x="163.2" y="414.6" width="11.700000000000017" height="9.399999999999977" fill="#8d99c0"/>
<line x1="168.6" y1="394.2" x2="168.6" y2="424.0" stroke="#2c5184" stroke-width="1.4"/>
<line x1="165.4" y1="394.2" x2="171.79999999999998" y2="394.2" stroke="#2c5184" stroke-width="1.4"/>
<rect x="167.25" y="349.95" width="3.3" height="3.3" fill="#fff" stroke="#2c5184" stroke-width="1.25"/>
<rect x="166.95" y="396.85" width="3.3" height="3.3" fill="#fff" stroke="#2c5184" stroke-width="1.25"/>
<rect x="166.95" y="402.75" width="3.3" height="3.3" fill="#fff" stroke="#2c5184" stroke-width="1.25"/>
<rect x="164.35" y="414.35" width="3.3" height="3.3" fill="#fff" stroke="#2c5184" stroke-width="1.25"/>
<rect x="168.85" y="414.85" width="3.3" height="3.3" fill="#fff" stroke="#2c5184" stroke-width="1.25"/>
<rect x="162.85" y="417.85" width="3.3" height="3.3" fill="#fff" stroke="#2c5184" stroke-width="1.25"/>
<rect x="166.35" y="418.65" width="3.3" height="3.3" fill="#fff" stroke="#2c5184" stroke-width="1.25"/>
<rect x="170.35" y="417.85" width="3.3" height="3.3" fill="#fff" stroke="#2c5184" stroke-width="1.25"/>
<rect x="161.85" y="421.55" width="3.3" height="3.3" fill="#fff" stroke="#2c5184" stroke-width="1.25"/>
<rect x="164.95" y="421.75" width="3.3" height="3.3" fill="#fff" stroke="#2c5184" stroke-width="1.25"/>
<rect x="168.35" y="421.75" width="3.3" height="3.3" fill="#fff" stroke="#2c5184" stroke-width="1.25"/>
<rect x="171.85" y="421.55" width="3.3" height="3.3" fill="#fff" stroke="#2c5184" stroke-width="1.25"/>
<line x1="88.5" y1="331.4" x2="88.5" y2="424.6" stroke="#1c1c1c" stroke-width="1.3"/>
<line x1="87.9" y1="424.0" x2="181.3" y2="424.0" stroke="#3c3c3c" stroke-width="1.5"/>
<line x1="85.3" y1="344.6" x2="88.5" y2="344.6" stroke="#262626" stroke-width="1.1"/>
<text x="77.03" y="347.50" font-size="8.300" font-weight="normal" fill="#2e2e2e">6</text>
<line x1="85.3" y1="371.0" x2="88.5" y2="371.0" stroke="#262626" stroke-width="1.1"/>
<text x="76.94" y="373.90" font-size="8.300" font-weight="normal" fill="#2e2e2e">4</text>
<line x1="85.3" y1="397.4" x2="88.5" y2="397.4" stroke="#262626" stroke-width="1.1"/>
<text x="77.11" y="400.30" font-size="8.300" font-weight="normal" fill="#2e2e2e">2</text>
<line x1="85.3" y1="423.7" x2="88.5" y2="423.7" stroke="#262626" stroke-width="1.1"/>
<text x="76.98" y="426.60" font-size="8.300" font-weight="normal" fill="#2e2e2e">0</text>
<line x1="110.2" y1="424.0" x2="110.2" y2="426.5" stroke="#262626" stroke-width="1"/>
<line x1="159.6" y1="424.0" x2="159.6" y2="426.5" stroke="#262626" stroke-width="1"/>
<text x="100.12" y="436.30" font-size="8.900" font-weight="normal" fill="#222222">NSG</text>
<text x="142.73" y="436.30" font-size="8.700" font-weight="normal" fill="#222222">NBSGW</text>
<line x1="100.3" y1="339.1" x2="120.0" y2="339.1" stroke="#4a4a4a" stroke-width="1.25"/>
<text x="105.86" y="336.30" font-size="7.900" font-weight="normal" fill="#222222">ns</text>
<line x1="149.7" y1="339.2" x2="169.3" y2="339.2" stroke="#4a4a4a" stroke-width="1.25"/>
<text x="155.21" y="336.40" font-size="7.900" font-weight="normal" fill="#222222">ns</text>
<text transform="translate(71.5 377.3) rotate(-90)" x="0" y="0" font-size="8.6" text-anchor="middle" fill="#2a2a2a" font-weight="bold" textLength="69.25" lengthAdjust="spacingAndGlyphs"># Of cells in μL blood</text>
<rect x="258.0" y="420.5" width="11.0" height="3.5" fill="#ea8c80"/>
<line x1="263.8" y1="419.0" x2="263.8" y2="424.0" stroke="#c42a45" stroke-width="1.6"/>
<line x1="261.8" y1="419.0" x2="265.8" y2="419.0" stroke="#8a2238" stroke-width="1.4"/>
<circle cx="258.6" cy="420.2" r="1.6" fill="#fff" stroke="#c42a45" stroke-width="1.2"/>
<circle cx="262.0" cy="420.6" r="1.6" fill="#fff" stroke="#c42a45" stroke-width="1.2"/>
<circle cx="265.3" cy="420.2" r="1.6" fill="#fff" stroke="#c42a45" stroke-width="1.2"/>
<circle cx="268.8" cy="418.2" r="1.6" fill="#fff" stroke="#c42a45" stroke-width="1.2"/>
<circle cx="259.5" cy="423.4" r="1.6" fill="#fff" stroke="#c42a45" stroke-width="1.2"/>
<circle cx="268.0" cy="422.6" r="1.6" fill="#fff" stroke="#c42a45" stroke-width="1.2"/>
<rect x="277.5" y="415.6" width="10.800000000000011" height="8.399999999999977" fill="#ea8c80"/>
<line x1="282.1" y1="400.5" x2="282.1" y2="424.0" stroke="#c42a45" stroke-width="1.6"/>
<line x1="279.1" y1="400.5" x2="285.1" y2="400.5" stroke="#8a2238" stroke-width="1.4"/>
<rect x="280.65" y="384.25" width="3.3" height="3.3" fill="#fff" stroke="#c42a45" stroke-width="1.25"/>
<rect x="280.45" y="398.95" width="3.3" height="3.3" fill="#fff" stroke="#c42a45" stroke-width="1.25"/>
<rect x="282.35" y="408.55" width="3.3" height="3.3" fill="#fff" stroke="#c42a45" stroke-width="1.25"/>
<rect x="280.15" y="410.85" width="3.3" height="3.3" fill="#fff" stroke="#c42a45" stroke-width="1.25"/>
<rect x="277.35" y="416.35" width="3.3" height="3.3" fill="#fff" stroke="#c42a45" stroke-width="1.25"/>
<rect x="282.35" y="416.35" width="3.3" height="3.3" fill="#fff" stroke="#c42a45" stroke-width="1.25"/>
<rect x="276.35" y="419.35" width="3.3" height="3.3" fill="#fff" stroke="#c42a45" stroke-width="1.25"/>
<rect x="280.35" y="419.85" width="3.3" height="3.3" fill="#fff" stroke="#c42a45" stroke-width="1.25"/>
<rect x="284.85" y="419.35" width="3.3" height="3.3" fill="#fff" stroke="#c42a45" stroke-width="1.25"/>
<rect x="275.85" y="421.75" width="3.3" height="3.3" fill="#fff" stroke="#c42a45" stroke-width="1.25"/>
<rect x="279.35" y="421.75" width="3.3" height="3.3" fill="#fff" stroke="#c42a45" stroke-width="1.25"/>
<rect x="283.35" y="421.75" width="3.3" height="3.3" fill="#fff" stroke="#c42a45" stroke-width="1.25"/>
<rect x="286.35" y="421.35" width="3.3" height="3.3" fill="#fff" stroke="#c42a45" stroke-width="1.25"/>
<rect x="308.0" y="419.0" width="11.0" height="5.0" fill="#8d99c0"/>
<line x1="313.5" y1="408.9" x2="313.5" y2="424.0" stroke="#2c5184" stroke-width="1.4"/>
<line x1="310.3" y1="408.9" x2="316.7" y2="408.9" stroke="#2c5184" stroke-width="1.4"/>
<circle cx="313.5" cy="396.7" r="1.6" fill="#fff" stroke="#2c5184" stroke-width="1.2"/>
<circle cx="313.5" cy="418.3" r="1.6" fill="#fff" stroke="#2c5184" stroke-width="1.2"/>
<circle cx="310.8" cy="421.5" r="1.6" fill="#fff" stroke="#2c5184" stroke-width="1.2"/>
<circle cx="315.6" cy="421.5" r="1.6" fill="#fff" stroke="#2c5184" stroke-width="1.2"/>
<circle cx="309.2" cy="423.5" r="1.6" fill="#fff" stroke="#2c5184" stroke-width="1.2"/>
<circle cx="317.8" cy="423.5" r="1.6" fill="#fff" stroke="#2c5184" stroke-width="1.2"/>
<circle cx="313.5" cy="423.2" r="1.6" fill="#fff" stroke="#2c5184" stroke-width="1.2"/>
<rect x="326.4" y="413.4" width="10.800000000000011" height="10.600000000000023" fill="#8d99c0"/>
<line x1="331.8" y1="392.1" x2="331.8" y2="424.0" stroke="#2c5184" stroke-width="1.4"/>
<line x1="328.8" y1="392.1" x2="334.8" y2="392.1" stroke="#2c5184" stroke-width="1.4"/>
<rect x="329.85" y="352.05" width="3.3" height="3.3" fill="#fff" stroke="#2c5184" stroke-width="1.25"/>
<rect x="330.15" y="383.75" width="3.3" height="3.3" fill="#fff" stroke="#2c5184" stroke-width="1.25"/>
<rect x="330.15" y="396.65" width="3.3" height="3.3" fill="#fff" stroke="#2c5184" stroke-width="1.25"/>
<rect x="330.15" y="412.35" width="3.3" height="3.3" fill="#fff" stroke="#2c5184" stroke-width="1.25"/>
<rect x="326.95" y="419.35" width="3.3" height="3.3" fill="#fff" stroke="#2c5184" stroke-width="1.25"/>
<rect x="331.75" y="419.85" width="3.3" height="3.3" fill="#fff" stroke="#2c5184" stroke-width="1.25"/>
<rect x="325.35" y="421.85" width="3.3" height="3.3" fill="#fff" stroke="#2c5184" stroke-width="1.25"/>
<rect x="334.95" y="421.85" width="3.3" height="3.3" fill="#fff" stroke="#2c5184" stroke-width="1.25"/>
<rect x="330.15" y="421.85" width="3.3" height="3.3" fill="#fff" stroke="#2c5184" stroke-width="1.25"/>
<line x1="251.5" y1="332.2" x2="251.5" y2="424.6" stroke="#1c1c1c" stroke-width="1.3"/>
<line x1="250.9" y1="424.0" x2="344.2" y2="424.0" stroke="#3c3c3c" stroke-width="1.5"/>
<line x1="248.3" y1="344.7" x2="251.5" y2="344.7" stroke="#262626" stroke-width="1.1"/>
<text x="240.03" y="347.60" font-size="8.300" font-weight="normal" fill="#2e2e2e">3</text>
<line x1="248.3" y1="371.0" x2="251.5" y2="371.0" stroke="#262626" stroke-width="1.1"/>
<text x="240.11" y="373.90" font-size="8.300" font-weight="normal" fill="#2e2e2e">2</text>
<line x1="248.3" y1="397.3" x2="251.5" y2="397.3" stroke="#262626" stroke-width="1.1"/>
<text x="240.07" y="400.20" font-size="8.300" font-weight="normal" fill="#2e2e2e">1</text>
<line x1="248.3" y1="423.7" x2="251.5" y2="423.7" stroke="#262626" stroke-width="1.1"/>
<text x="239.98" y="426.60" font-size="8.300" font-weight="normal" fill="#2e2e2e">0</text>
<line x1="272.6" y1="424.0" x2="272.6" y2="426.5" stroke="#262626" stroke-width="1"/>
<line x1="322.6" y1="424.0" x2="322.6" y2="426.5" stroke="#262626" stroke-width="1"/>
<text x="263.22" y="436.30" font-size="8.900" font-weight="normal" fill="#222222">NSG</text>
<text x="306.03" y="436.30" font-size="8.700" font-weight="normal" fill="#222222">NBSGW</text>
<line x1="263.0" y1="340.0" x2="282.0" y2="340.0" stroke="#4a4a4a" stroke-width="1.25"/>
<text x="268.21" y="337.20" font-size="7.900" font-weight="normal" fill="#222222">ns</text>
<line x1="313.0" y1="340.0" x2="332.0" y2="340.0" stroke="#4a4a4a" stroke-width="1.25"/>
<text x="318.21" y="337.20" font-size="7.900" font-weight="normal" fill="#222222">ns</text>
<text transform="translate(234.8 377.45) rotate(-90)" x="0" y="0" font-size="8.6" text-anchor="middle" fill="#2a2a2a" font-weight="bold" textLength="68.74" lengthAdjust="spacingAndGlyphs"># Of cells in μL blood</text>
<rect x="426.5" y="421.0" width="11.0" height="2.8999999999999773" fill="#ea8c80"/>
<line x1="432.0" y1="419.5" x2="432.0" y2="423.9" stroke="#c42a45" stroke-width="1.6"/>
<line x1="430.0" y1="419.5" x2="434.0" y2="419.5" stroke="#8a2238" stroke-width="1.4"/>
<circle cx="427.2" cy="420.0" r="1.6" fill="#fff" stroke="#c42a45" stroke-width="1.2"/>
<circle cx="430.0" cy="421.2" r="1.6" fill="#fff" stroke="#c42a45" stroke-width="1.2"/>
<circle cx="433.0" cy="421.6" r="1.6" fill="#fff" stroke="#c42a45" stroke-width="1.2"/>
<circle cx="436.4" cy="422.1" r="1.6" fill="#fff" stroke="#c42a45" stroke-width="1.2"/>
<circle cx="428.3" cy="423.4" r="1.6" fill="#fff" stroke="#c42a45" stroke-width="1.2"/>
<rect x="445.5" y="418.0" width="11.0" height="5.899999999999977" fill="#ea8c80"/>
<line x1="451.3" y1="409.2" x2="451.3" y2="423.9" stroke="#c42a45" stroke-width="1.6"/>
<line x1="448.3" y1="409.2" x2="454.3" y2="409.2" stroke="#8a2238" stroke-width="1.4"/>
<rect x="449.35" y="399.55" width="3.3" height="3.3" fill="#fff" stroke="#c42a45" stroke-width="1.25"/>
<rect x="449.35" y="403.85" width="3.3" height="3.3" fill="#fff" stroke="#c42a45" stroke-width="1.25"/>
<rect x="449.65" y="413.55" width="3.3" height="3.3" fill="#fff" stroke="#c42a45" stroke-width="1.25"/>
<rect x="444.35" y="417.35" width="3.3" height="3.3" fill="#fff" stroke="#c42a45" stroke-width="1.25"/>
<rect x="448.35" y="416.85" width="3.3" height="3.3" fill="#fff" stroke="#c42a45" stroke-width="1.25"/>
<rect x="452.35" y="417.85" width="3.3" height="3.3" fill="#fff" stroke="#c42a45" stroke-width="1.25"/>
<rect x="441.35" y="420.85" width="3.3" height="3.3" fill="#fff" stroke="#c42a45" stroke-width="1.25"/>
<rect x="445.35" y="421.35" width="3.3" height="3.3" fill="#fff" stroke="#c42a45" stroke-width="1.25"/>
<rect x="449.35" y="421.35" width="3.3" height="3.3" fill="#fff" stroke="#c42a45" stroke-width="1.25"/>
<rect x="453.35" y="421.35" width="3.3" height="3.3" fill="#fff" stroke="#c42a45" stroke-width="1.25"/>
<rect x="456.35" y="420.85" width="3.3" height="3.3" fill="#fff" stroke="#c42a45" stroke-width="1.25"/>
<rect x="477.0" y="419.5" width="11.0" height="4.399999999999977" fill="#8d99c0"/>
<line x1="482.2" y1="408.6" x2="482.2" y2="423.9" stroke="#2c5184" stroke-width="1.4"/>
<line x1="479.2" y1="408.6" x2="485.2" y2="408.6" stroke="#2c5184" stroke-width="1.4"/>
<circle cx="482.0" cy="396.2" r="1.6" fill="#fff" stroke="#2c5184" stroke-width="1.2"/>
<circle cx="484.2" cy="418.3" r="1.6" fill="#fff" stroke="#2c5184" stroke-width="1.2"/>
<circle cx="479.9" cy="421.0" r="1.6" fill="#fff" stroke="#2c5184" stroke-width="1.2"/>
<circle cx="482.0" cy="422.6" r="1.6" fill="#fff" stroke="#2c5184" stroke-width="1.2"/>
<circle cx="477.7" cy="423.5" r="1.6" fill="#fff" stroke="#2c5184" stroke-width="1.2"/>
<circle cx="486.9" cy="423.5" r="1.6" fill="#fff" stroke="#2c5184" stroke-width="1.2"/>
<circle cx="484.7" cy="422.6" r="1.6" fill="#fff" stroke="#2c5184" stroke-width="1.2"/>
<rect x="495.5" y="412.9" width="10.800000000000011" height="11.0" fill="#8d99c0"/>
<line x1="500.0" y1="392.9" x2="500.0" y2="423.9" stroke="#2c5184" stroke-width="1.4"/>
<line x1="497.0" y1="392.9" x2="503.0" y2="392.9" stroke="#2c5184" stroke-width="1.4"/>
<rect x="498.45" y="350.45" width="3.3" height="3.3" fill="#fff" stroke="#2c5184" stroke-width="1.25"/>
<rect x="498.35" y="391.25" width="3.3" height="3.3" fill="#fff" stroke="#2c5184" stroke-width="1.25"/>
<rect x="498.35" y="411.75" width="3.3" height="3.3" fill="#fff" stroke="#2c5184" stroke-width="1.25"/>
<rect x="498.65" y="418.25" width="3.3" height="3.3" fill="#fff" stroke="#2c5184" stroke-width="1.25"/>
<rect x="496.35" y="420.35" width="3.3" height="3.3" fill="#fff" stroke="#2c5184" stroke-width="1.25"/>
<rect x="500.85" y="420.35" width="3.3" height="3.3" fill="#fff" stroke="#2c5184" stroke-width="1.25"/>
<rect x="494.35" y="421.85" width="3.3" height="3.3" fill="#fff" stroke="#2c5184" stroke-width="1.25"/>
<rect x="503.35" y="421.85" width="3.3" height="3.3" fill="#fff" stroke="#2c5184" stroke-width="1.25"/>
<line x1="420.3" y1="328.4" x2="420.3" y2="424.5" stroke="#1c1c1c" stroke-width="1.3"/>
<line x1="419.7" y1="423.9" x2="512.7" y2="423.9" stroke="#3c3c3c" stroke-width="1.5"/>
<line x1="417.1" y1="331.1" x2="420.3" y2="331.1" stroke="#262626" stroke-width="1.1"/>
<text x="401.90" y="334.00" font-size="8.300" font-weight="normal" fill="#2e2e2e">1.5</text>
<line x1="417.1" y1="362.0" x2="420.3" y2="362.0" stroke="#262626" stroke-width="1.1"/>
<text x="401.85" y="364.90" font-size="8.300" font-weight="normal" fill="#2e2e2e">1.0</text>
<line x1="417.1" y1="393.0" x2="420.3" y2="393.0" stroke="#262626" stroke-width="1.1"/>
<text x="401.90" y="395.90" font-size="8.300" font-weight="normal" fill="#2e2e2e">0.5</text>
<line x1="417.1" y1="423.6" x2="420.3" y2="423.6" stroke="#262626" stroke-width="1.1"/>
<text x="401.85" y="426.50" font-size="8.300" font-weight="normal" fill="#2e2e2e">0.0</text>
<line x1="441.6" y1="423.9" x2="441.6" y2="426.4" stroke="#262626" stroke-width="1"/>
<line x1="491.5" y1="423.9" x2="491.5" y2="426.4" stroke="#262626" stroke-width="1"/>
<text x="431.92" y="436.30" font-size="8.900" font-weight="normal" fill="#222222">NSG</text>
<text x="474.73" y="436.30" font-size="8.700" font-weight="normal" fill="#222222">NBSGW</text>
<line x1="431.8" y1="340.0" x2="452.0" y2="340.0" stroke="#4a4a4a" stroke-width="1.25"/>
<text x="437.61" y="337.20" font-size="7.900" font-weight="normal" fill="#222222">ns</text>
<line x1="481.8" y1="340.0" x2="500.8" y2="340.0" stroke="#4a4a4a" stroke-width="1.25"/>
<text x="487.01" y="337.20" font-size="7.900" font-weight="normal" fill="#222222">ns</text>
<text transform="translate(396.5 375.5) rotate(-90)" x="0" y="0" font-size="8.6" text-anchor="middle" fill="#2a2a2a" font-weight="bold" textLength="69.05" lengthAdjust="spacingAndGlyphs"># Of cells in μL blood</text>
<circle cx="236.2" cy="453.5" r="1.6" fill="#fff" stroke="#333" stroke-width="1.2"/>
<text x="241.44" y="455.80" font-size="8.213" font-weight="normal" fill="#222222">Control</text>
<rect x="279.55" y="451.85" width="3.3" height="3.3" fill="#fff" stroke="#333" stroke-width="1.25"/>
<text x="286.42" y="455.80" font-size="8.510" font-weight="normal" fill="#222222">G-CSF + AMD3100</text>
</svg>
<div class="bd"></div>
</div></body></html>
